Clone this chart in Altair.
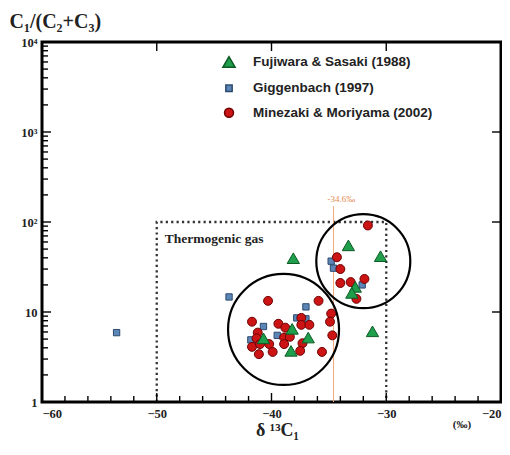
import altair as alt
import pandas as pd

# ---------------- data ----------------
sources = ["Fujiwara & Sasaki (1988)", "Giggenbach (1997)", "Minezaki & Moriyama (2002)"]

fuji_x = [-38.2, -36.8, -38.3, -40.7, -31.2, -38.1, -33.3, -30.5, -32.7, -33.0]
fuji_y = [6.5, 5.2, 3.7, 5.1, 6.1, 39.6, 55.0, 41.7, 19.0, 16.3]

gigg_x = [-53.5, -43.7, -37.0, -40.7, -41.8, -39.5, -37.8, -37.0, -34.8, -34.6, -32.1]
gigg_y = [5.9, 14.7, 11.4, 6.9, 4.9, 5.5, 8.6, 8.4, 36.7, 30.7, 20.0]

mine_x = [-40.3, -35.9, -41.7, -39.4, -38.8, -37.4, -37.4, -36.7, -34.8, -34.9, -34.7,
          -41.2, -41.3, -41.7, -41.0, -40.2, -41.1, -39.9, -38.9, -38.4, -38.9, -37.3,
          -37.5, -35.6,
          -31.6, -34.3, -34.0, -34.0, -33.1, -31.9, -32.6]
mine_y = [13.3, 13.3, 7.8, 7.4, 6.7, 8.6, 7.2, 7.2, 9.6, 7.8, 5.5,
          5.9, 5.1, 4.1, 4.4, 4.4, 3.4, 3.6, 5.2, 5.3, 4.4, 4.5,
          3.7, 3.6,
          91.5, 40.6, 30.0, 21.0, 21.5, 23.3, 14.0]

# group circles (centres)
ring_x = [-38.95, -32.0]
ring_y = [6.4, 36.7]

# thermogenic gas box
box_x = [-50, -50, -30, -30]
box_y = [1, 100, 100, 1]

ref_x = -34.6
ref_y = [1, 150]

x_major = [-60, -50, -40, -30, -20]
x_minor = [-58, -56, -54, -52, -48, -46, -44, -42, -38, -36, -34, -32, -28, -26, -24, -22]
y_major = [1, 10, 100, 1000, 10000]
y_minor = [d * 10 ** k for k in range(4) for d in range(2, 10)]

# ---------------- frames ----------------
rows = []
i = 0
for s, xs_, ys_ in [(sources[1], gigg_x, gigg_y), (sources[2], mine_x, mine_y), (sources[0], fuji_x, fuji_y)]:
    for a, b in zip(xs_, ys_):
        rows.append({"d13c": a, "ratio": b, "source": s, "idx": i})
        i += 1
df = pd.DataFrame(rows)

W, H = 459, 360
xsc = alt.Scale(domain=[-60, -20], nice=False, zero=False)
ysc = alt.Scale(type="log", domain=[1, 10000], nice=False)
SERIF = "Liberation Serif"
SANS = "Liberation Sans"

leg = alt.Legend(title=None, orient="none", legendX=180, legendY=13,
                 labelFont=SANS, labelFontWeight="bold", labelFontSize=13.5,
                 labelColor="#222", rowPadding=9.5, labelOffset=17, padding=0, labelLimit=0)

ylab = ("datum.value == 1 ? '1' : datum.value == 10 ? '10' : datum.value == 100 ? '10²' : "
        "datum.value == 1000 ? '10³' : '10⁴'")

points = alt.Chart(df).mark_point(filled=True, opacity=1, strokeWidth=1, clip=False).encode(
    x=alt.X("d13c:Q", scale=xsc,
            axis=alt.Axis(values=x_major, format="d", ticks=False, grid=False, domain=False,
                          labelFont=SERIF, labelFontWeight="bold", labelFontSize=12.5,
                          labelColor="#222", labelPadding=5,
                          title="δ ¹³C₁", titleFont=SERIF, titleFontSize=18,
                          titleFontWeight="bold", titleColor="#222",
                          titleX=235, titleY=28, titleBaseline="middle")),
    y=alt.Y("ratio:Q", scale=ysc,
            axis=alt.Axis(values=y_major, labelExpr=ylab, ticks=False, grid=False, domain=False,
                          labelFont=SERIF, labelFontWeight="bold", labelFontSize=12.5,
                          labelColor="#222", labelPadding=5,
                          title="C₁/(C₂+C₃)", titleFont=SERIF, titleFontSize=20,
                          titleFontWeight="bold", titleColor="#222", titleAngle=0,
                          titleAlign="left", titleBaseline="middle",
                          titleX=-33, titleY=-21)),
    shape=alt.Shape("source:N", scale=alt.Scale(domain=sources, range=["triangle-up", "square", "circle"]), legend=leg),
    fill=alt.Fill("source:N", scale=alt.Scale(domain=sources, range=["#1f9e4c", "#5b86b6", "#cc1414"]), legend=leg),
    stroke=alt.Stroke("source:N", scale=alt.Scale(domain=sources, range=["#0d5a25", "#2c4a70", "#6e0000"]), legend=leg),
    size=alt.Size("source:N", scale=alt.Scale(type="ordinal", domain=sources, range=[150, 40, 80]), legend=leg),
    order=alt.Order("idx:Q"),
)

NOAX = dict(axis=None)

ring_df = pd.DataFrame({"x": ring_x, "y": ring_y})
ring_lo = alt.Chart(ring_df.iloc[[0]]).mark_point(shape="circle", filled=False, stroke="black", strokeWidth=2.2,
                                                  opacity=1, clip=False, size=111 * 111).encode(
    x=alt.X("x:Q", scale=xsc, **NOAX), y=alt.Y("y:Q", scale=ysc, **NOAX))
ring_hi = alt.Chart(ring_df.iloc[[1]]).mark_point(shape="circle", filled=False, stroke="black", strokeWidth=2.2,
                                                  opacity=1, clip=False, size=94 * 94).encode(
    x=alt.X("x:Q", scale=xsc, **NOAX), y=alt.Y("y:Q", scale=ysc, **NOAX))

box_df = pd.DataFrame({"x": box_x, "y": box_y, "o": list(range(len(box_x)))})
box = alt.Chart(box_df).mark_line(color="#333", strokeWidth=2.3, strokeDash=[2.2, 3.2]).encode(
    x=alt.X("x:Q", scale=xsc, **NOAX),
    y=alt.Y("y:Q", scale=ysc, **NOAX),
    order="o:Q",
)

ref_df = pd.DataFrame({"x": [ref_x], "y": [ref_y[0]], "y2": [ref_y[1]]})
ref = alt.Chart(ref_df).mark_rule(color="#f5a878", strokeWidth=1).encode(
    x=alt.X("x:Q", scale=xsc, **NOAX),
    y=alt.Y("y:Q", scale=ysc, **NOAX),
    y2="y2:Q",
)

ref_lab = alt.Chart(pd.DataFrame({"x": [-33.9], "y": [182], "t": ["-34.6‰"]})).mark_text(
    font=SERIF, fontSize=9, color="#e8894f", align="center", baseline="middle").encode(
    x=alt.X("x:Q", scale=xsc, **NOAX), y=alt.Y("y:Q", scale=ysc, **NOAX), text="t:N")

thermo = alt.Chart(pd.DataFrame({"x": [-49.3], "y": [64], "t": ["Thermogenic gas"]})).mark_text(
    font=SERIF, fontSize=13.5, fontWeight="bold", color="#222", align="left", baseline="middle").encode(
    x=alt.X("x:Q", scale=xsc, **NOAX), y=alt.Y("y:Q", scale=ysc, **NOAX), text="t:N")

permil = alt.Chart(pd.DataFrame({"x": [-23.4], "y": [0.56], "t": ["(‰)"]})).mark_text(
    font=SERIF, fontSize=11, fontWeight="bold", color="#222", align="center", baseline="middle",
    clip=False).encode(
    x=alt.X("x:Q", scale=xsc, **NOAX), y=alt.Y("y:Q", scale=ysc, **NOAX), text="t:N")

def yticks(vals, x0, x1):
    return alt.Chart(pd.DataFrame({"v": vals})).mark_rule(color="black", strokeWidth=1.4).encode(
        y=alt.Y("v:Q", scale=ysc, **NOAX), x=alt.value(x0), x2=alt.value(x1))

def xticks(vals, y0, y1):
    return alt.Chart(pd.DataFrame({"v": vals})).mark_rule(color="black", strokeWidth=1.4).encode(
        x=alt.X("v:Q", scale=xsc, **NOAX), y=alt.value(y0), y2=alt.value(y1))

ticks = [
    yticks(y_major[1:-1], 0, 9),
    yticks(y_minor, 0, 6),
    yticks(y_major[1:-1], W, W - 9),
    xticks(x_major[1:-1], H, H - 9),
    xticks(x_minor, H, H - 6),
    xticks(x_major[1:-1], 0, 9),
]

chart = alt.layer(box, ref, ref_lab, thermo, permil, ring_lo, ring_hi, *ticks, points).resolve_axis(
    x="independent", y="independent"
).properties(
    width=W, height=H,
    autosize=alt.AutoSizeParams(type="none"),
    padding={"left": 34, "top": 34, "right": 1, "bottom": 40},
).configure(background="white").configure_view(stroke="black", strokeWidth=3).configure_axis(
    ticks=False, domain=False, grid=False)

chart.save("out.html", embed_options={"renderer": "svg", "actions": False})
